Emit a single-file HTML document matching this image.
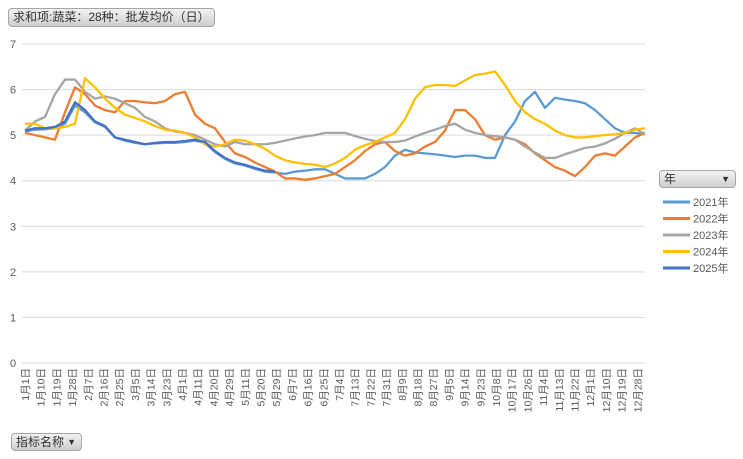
<!DOCTYPE html>
<html><head><meta charset="utf-8"><style>
body{margin:0;background:#fff;font-family:"Liberation Sans","Noto Sans CJK SC",sans-serif;}
.btn{position:absolute;background:linear-gradient(#f2f2f2,#cfcfcf);border:1px solid #a6a6a6;border-radius:4px;font-size:12px;color:#333;line-height:17px;padding:0 4px;box-sizing:border-box;}
</style></head><body>
<div style="position:relative;width:743px;height:459px;overflow:hidden">
<div class="btn" style="left:8px;top:8px;width:207px;height:19px">求和项:蔬菜：28种：批发均价（日）</div>
<div class="btn" style="left:659px;top:170px;width:77px;height:18px">年<span style="position:absolute;right:5px;top:0;font-size:9px">▼</span></div>
<div class="btn" style="left:11px;top:433px;width:71px;height:18px">指标名称<span style="position:absolute;right:5px;top:0;font-size:9px">▼</span></div>
<svg id="chart" width="743" height="459" style="position:absolute;left:0;top:0;pointer-events:none"></svg>
</div>
<script>
const yTicks=[0,1,2,3,4,5,6,7];
const xLabels=["1月1日","1月10日","1月19日","1月28日","2月7日","2月16日","2月25日","3月5日","3月14日","3月23日","4月1日","4月11日","4月20日","4月29日","5月11日","5月20日","5月29日","6月7日","6月16日","6月25日","7月4日","7月13日","7月22日","7月31日","8月9日","8月18日","8月27日","9月5日","9月14日","9月23日","10月8日","10月17日","10月26日","11月4日","11月13日","11月22日","12月1日","12月10日","12月19日","12月28日"];
const seriesNames=["2021年","2022年","2023年","2024年","2025年"];
const colors=["#5B9BD5","#ED7D31","#A5A5A5","#FFC000","#4472C4"];
const s2021=[5.08,5.12,5.13,5.15,5.25,5.65,5.5,5.28,5.18,4.95,4.88,4.83,4.8,4.82,4.83,4.83,4.85,4.88,4.83,4.63,4.48,4.38,4.33,4.26,4.2,4.18,4.15,4.2,4.22,4.25,4.25,4.15,4.05,4.05,4.05,4.15,4.3,4.55,4.68,4.62,4.6,4.58,4.55,4.52,4.55,4.55,4.5,4.5,5.0,5.3,5.75,5.95,5.6,5.82,5.78,5.75,5.7,5.55,5.35,5.15,5.05,5.05,5.02];
const s2022=[5.05,5.0,4.95,4.9,5.5,6.05,5.9,5.65,5.55,5.5,5.75,5.75,5.72,5.7,5.75,5.9,5.95,5.45,5.25,5.15,4.85,4.6,4.52,4.4,4.3,4.2,4.05,4.05,4.02,4.05,4.1,4.15,4.3,4.45,4.65,4.8,4.85,4.65,4.55,4.6,4.75,4.85,5.1,5.55,5.55,5.35,5.0,4.9,4.95,4.9,4.8,4.6,4.45,4.3,4.22,4.1,4.3,4.55,4.6,4.55,4.75,4.95,5.05];
const s2023=[5.1,5.3,5.4,5.9,6.22,6.22,5.95,5.8,5.85,5.8,5.7,5.6,5.4,5.3,5.15,5.08,5.05,5.0,4.9,4.8,4.75,4.85,4.8,4.8,4.8,4.83,4.88,4.93,4.97,5.0,5.05,5.05,5.05,4.98,4.92,4.87,4.85,4.85,4.88,4.97,5.05,5.12,5.2,5.25,5.12,5.05,5.0,4.98,4.95,4.9,4.75,4.62,4.5,4.5,4.58,4.65,4.72,4.75,4.82,4.92,5.05,5.15,5.02];
const s2024=[5.25,5.25,5.15,5.15,5.18,5.25,6.25,6.05,5.8,5.6,5.45,5.38,5.3,5.2,5.12,5.1,5.05,4.95,4.8,4.75,4.8,4.9,4.88,4.8,4.7,4.55,4.45,4.4,4.37,4.35,4.3,4.38,4.5,4.68,4.78,4.85,4.95,5.05,5.35,5.8,6.05,6.1,6.1,6.08,6.2,6.32,6.35,6.4,6.1,5.75,5.5,5.35,5.25,5.1,5.0,4.95,4.95,4.98,5.0,5.02,5.05,5.12,5.15];
const s2025=[5.1,5.15,5.15,5.18,5.3,5.72,5.55,5.3,5.2,4.95,4.9,4.85,4.8,4.83,4.85,4.85,4.87,4.9,4.85,4.65,4.5,4.4,4.35,4.28,4.22,4.2];
const allSeries=[s2021,s2022,s2023,s2024,s2025];
const NS="http://www.w3.org/2000/svg";
const svg=document.getElementById('chart');
const X0=25,X1=645,Y0=363,Y7=44,NPTS=63;
function y(v){return Y0-(v/7)*(Y0-Y7);}
function x(i){return X0+i*(X1-X0)/(NPTS-1);}
function xl(j){return X0+j*15.7;}
function mk(t,a){const e=document.createElementNS(NS,t);for(const k in a)e.setAttribute(k,a[k]);svg.appendChild(e);return e;}
yTicks.forEach(v=>{
 const g=mk('line',{x1:22,x2:645,y1:y(v),y2:y(v),stroke:'#d9d9d9','stroke-width':1});
 
 
 const t=mk('text',{x:13,y:y(v)+4,'text-anchor':'middle','font-size':11,fill:'#595959','font-family':'Liberation Sans, sans-serif'});
 t.textContent=v;
 
 
});
xLabels.forEach((l,j)=>{
 const t=mk('text',{transform:`translate(${xl(j)+4},368) rotate(-90)`,'text-anchor':'end','font-size':10.5,fill:'#595959','font-family':'Liberation Sans, Noto Sans CJK SC, sans-serif'});
 t.textContent=l;
 
 
});
allSeries.forEach((s,k)=>{
 const p=mk('polyline',{points:s.map((v,i)=>x(i)+','+y(v)).join(' '),fill:'none',stroke:colors[k],'stroke-width':2.3,'stroke-linejoin':'round'});
 
 
});
seriesNames.forEach((n,k)=>{
 const ly=202+k*16.5;
 const l=mk('line',{x1:663,x2:690,y1:ly,y2:ly,stroke:colors[k],'stroke-width':3});
 
 
 const t=mk('text',{x:693,y:ly+4,'font-size':11,fill:'#595959','font-family':'Liberation Sans, Noto Sans CJK SC, sans-serif'});
 t.textContent=n;
 
 
});
</script>
</body></html>
